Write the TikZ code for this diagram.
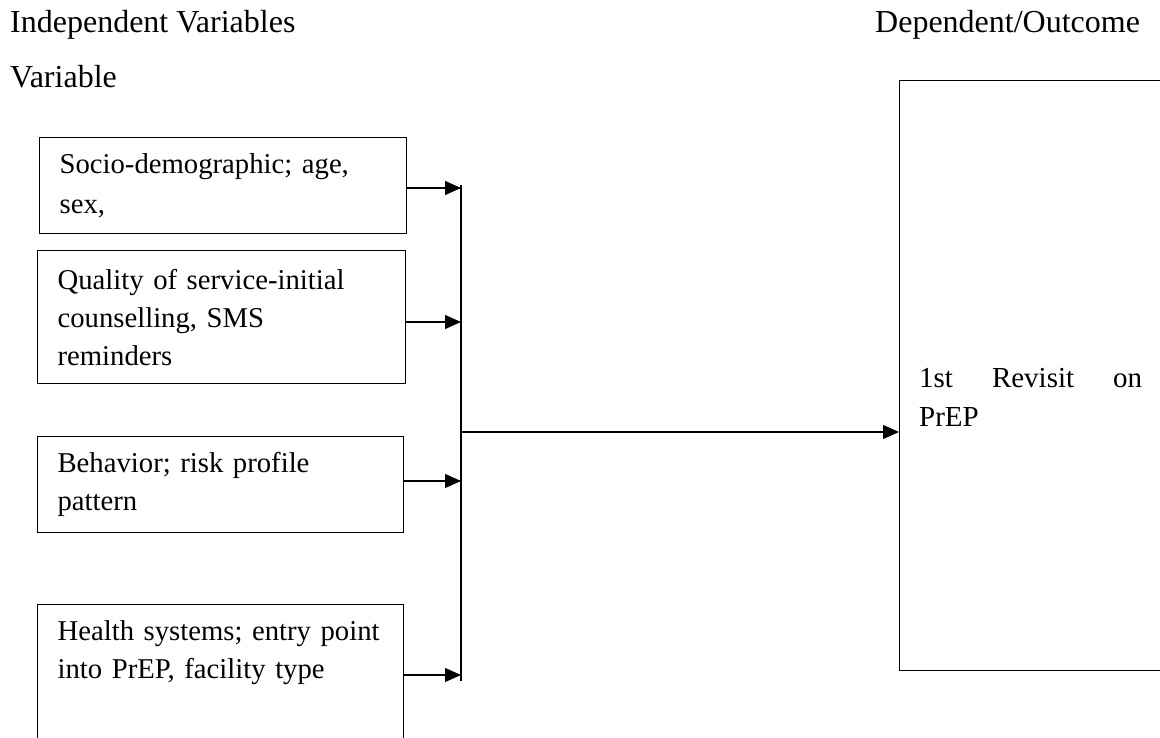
\documentclass[tikz,border=0pt]{standalone}
\usepackage{fontspec}
\setmainfont{Liberation Serif}
\usetikzlibrary{arrows.meta}
\newcommand\bxfont{\fontsize{28.7}{38}\selectfont}
\newcommand\hdfont{\fontsize{32}{38}\selectfont}
\begin{document}
\begin{tikzpicture}[x=1pt,y=-1pt,
  box/.style={draw, line width=1.2pt, rectangle, anchor=north west,
    inner xsep=20pt, inner ysep=0pt, align=left, font=\bxfont},
  arr/.style={line width=1.1pt, -{Triangle[length=16pt,width=14pt]}},
  head/.style={anchor=base west, inner sep=0pt, font=\hdfont},
  bar/.style={line width=2.8pt}]
\useasboundingbox (0,0) rectangle (1160,738);
\clip (0,0) rectangle (1160,738);
% headings
\node[head] (hind) at (10,33) {Independent Variables};
\node[head] (hvar) at (10,88) {Variable};
\node[head] (hdep) at (875,33) {Dependent/Outcome};
% independent variable boxes
\node[box, text width=327pt, minimum height=96pt] (s1) at (39,137)
  {Socio-demographic; age,\\[2pt]sex,};
\node[box, text width=328pt, minimum height=133pt] (s2) at (37,250)
  {Quality of service-initial\\counselling, SMS\\reminders};
\node[box, text width=326pt, minimum height=96pt] (s3) at (37,436)
  {Behavior; risk profile\\pattern};
\node[box, text width=326pt, inner ysep=16pt, text depth=160pt] (s4) at (37,604)
  {Health systems; entry point\\into PrEP, facility type};
% outcome box
\node[draw, line width=1.2pt, rectangle, anchor=north west, minimum width=400pt,
  minimum height=590pt] (out) at (899,80) {};
\node[anchor=north west, inner sep=0pt, align=left,
  font=\fontsize{29}{39}\selectfont] (outlbl) at (919,368)
  {\makebox[223pt][s]{1st Revisit on}\\PrEP};
% collecting bar
\coordinate (bartop) at (461,185);
\coordinate (barbot) at (461,681);
\coordinate (junc) at (461,432);
\draw[bar] (bartop) -- (barbot);
% arrows into the bar
\draw[arr] (s1.east |- 0,188) -- (bartop |- 0,188);
\draw[arr] (s2.east |- 0,322) -- (bartop |- 0,322);
\draw[arr] (s3.east |- 0,481) -- (bartop |- 0,481);
\draw[arr] (s4.east |- 0,675) -- (bartop |- 0,675);
% arrow to outcome
\draw[arr] (junc) -- (junc -| out.west);
\end{tikzpicture}
\end{document}
